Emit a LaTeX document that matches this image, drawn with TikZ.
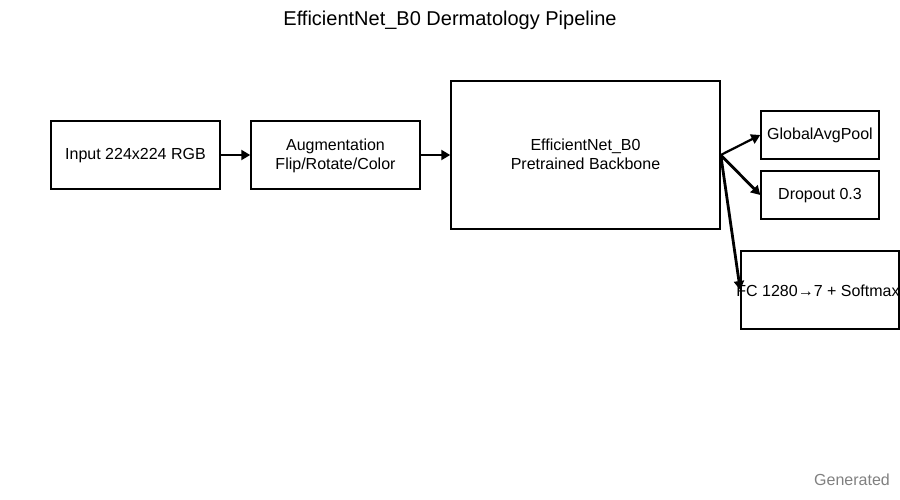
\documentclass[tikz,border=0pt]{standalone}
\usepackage{fontspec}
\setmainfont{Liberation Sans}
\usetikzlibrary{arrows.meta}
\begin{document}
\begin{tikzpicture}[x=1pt,y=-1pt,
  box/.style={draw=black,line width=1.5pt,rectangle,inner sep=0pt,align=center,font=\fontsize{16}{19}\selectfont,text depth=2pt},
  conn/.style={line width=2.8pt,-{Triangle[length=9pt,width=10pt]}}]
\useasboundingbox (0,0) rectangle (900,500);
\node[font=\fontsize{20}{24}\selectfont] (title) at (450,20) {EfficientNet\_B0 Dermatology Pipeline};
\node[box,minimum width=169pt,minimum height=68pt] (in) at (135.5,155) {Input 224x224 RGB};
\node[box,minimum width=169pt,minimum height=68pt] (aug) at (335.5,155) {Augmentation\\Flip/Rotate/Color};
\node[box,minimum width=269pt,minimum height=148pt] (eff) at (585.5,155) {EfficientNet\_B0\\Pretrained Backbone};
\node[box,minimum width=118pt,minimum height=48pt] (gap) at (820,135) {GlobalAvgPool};
\node[box,minimum width=118pt,minimum height=48pt] (drop) at (820,195) {Dropout 0.3};
\node[box,minimum width=158pt,minimum height=78pt] (fc) at (820,290) {};
\node[font=\fontsize{16}{19}\selectfont,inner sep=0pt] (fct) at (818,291) {FC 1280→7 + Softmax};
\node[text=gray,font=\fontsize{16}{19}\selectfont] (gen) at (852,480) {Generated};
\draw[conn] (in.east) -- (aug.west);
\draw[conn] (aug.east) -- (eff.west);
\draw[conn,line width=2.2pt] (eff.east) -- (gap.west);
\draw[conn] (eff.east) -- (drop.west);
\draw[conn] (eff.east) -- (fc.west);
\end{tikzpicture}
\end{document}
